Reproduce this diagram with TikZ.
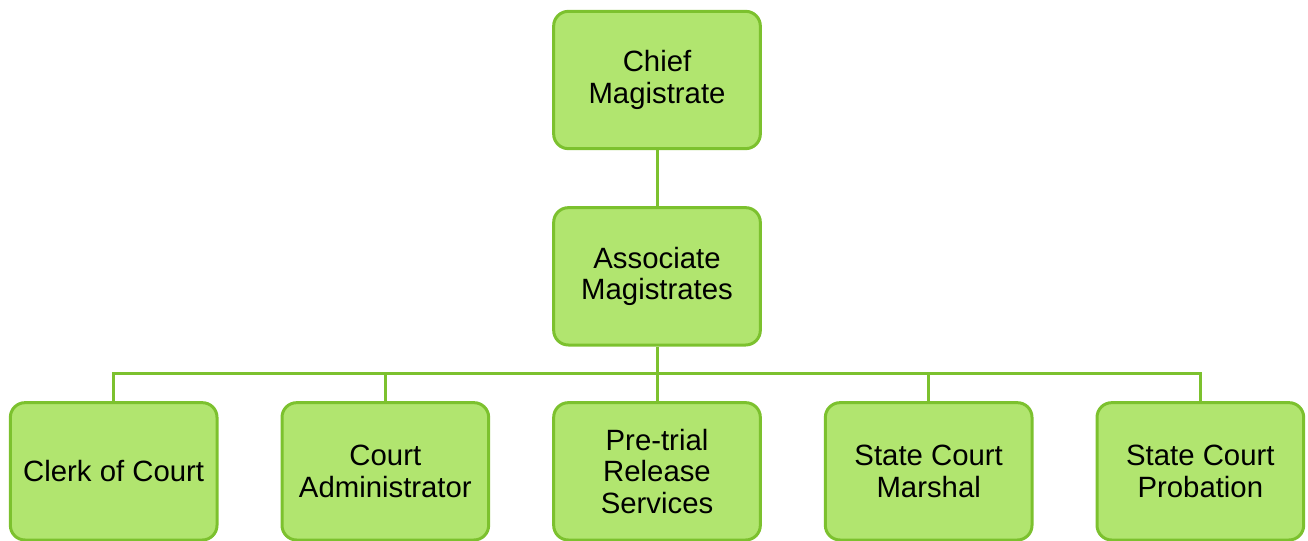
\documentclass[tikz,border=0pt]{standalone}
\usepackage{fontspec}
\setmainfont{Liberation Sans}
\definecolor{leaf}{HTML}{B1E56F}
\definecolor{stem}{HTML}{7CC12E}
\usetikzlibrary{positioning}

\begin{document}
\begin{tikzpicture}[
  x=0.75pt,y=-0.75pt,
  node distance=42pt and 46.5pt,
  box/.style={draw=stem,fill=leaf,line width=2.25pt,rounded corners=11pt,
    minimum width=155pt,minimum height=103pt,align=center,
    font=\fontsize{22}{23.5}\selectfont},
  link/.style={draw=stem,line width=2.25pt}
]
  \useasboundingbox (0,0) rectangle (1308,541);

  \node[box] (chief) at (657,80) {Chief\\Magistrate};
  \node[box,below=of chief] (assoc) {Associate\\Magistrates};
  \node[box,below=41pt of assoc] (pretrial) {Pre-trial\\Release\\Services};
  \node[box,left=of pretrial] (admin) {Court\\Administrator};
  \node[box,left=of admin] (clerk) {Clerk of Court};
  \node[box,right=of pretrial] (marshal) {State Court\\Marshal};
  \node[box,right=of marshal] (probation) {State Court\\Probation};

  \coordinate (bus) at (657,373);

  \draw[link] (chief) -- (assoc);
  \draw[link] (assoc) -- (bus);
  \foreach \n in {clerk,admin,pretrial,marshal,probation}
    \draw[link] (bus) -| (\n.north);
\end{tikzpicture}
\end{document}
